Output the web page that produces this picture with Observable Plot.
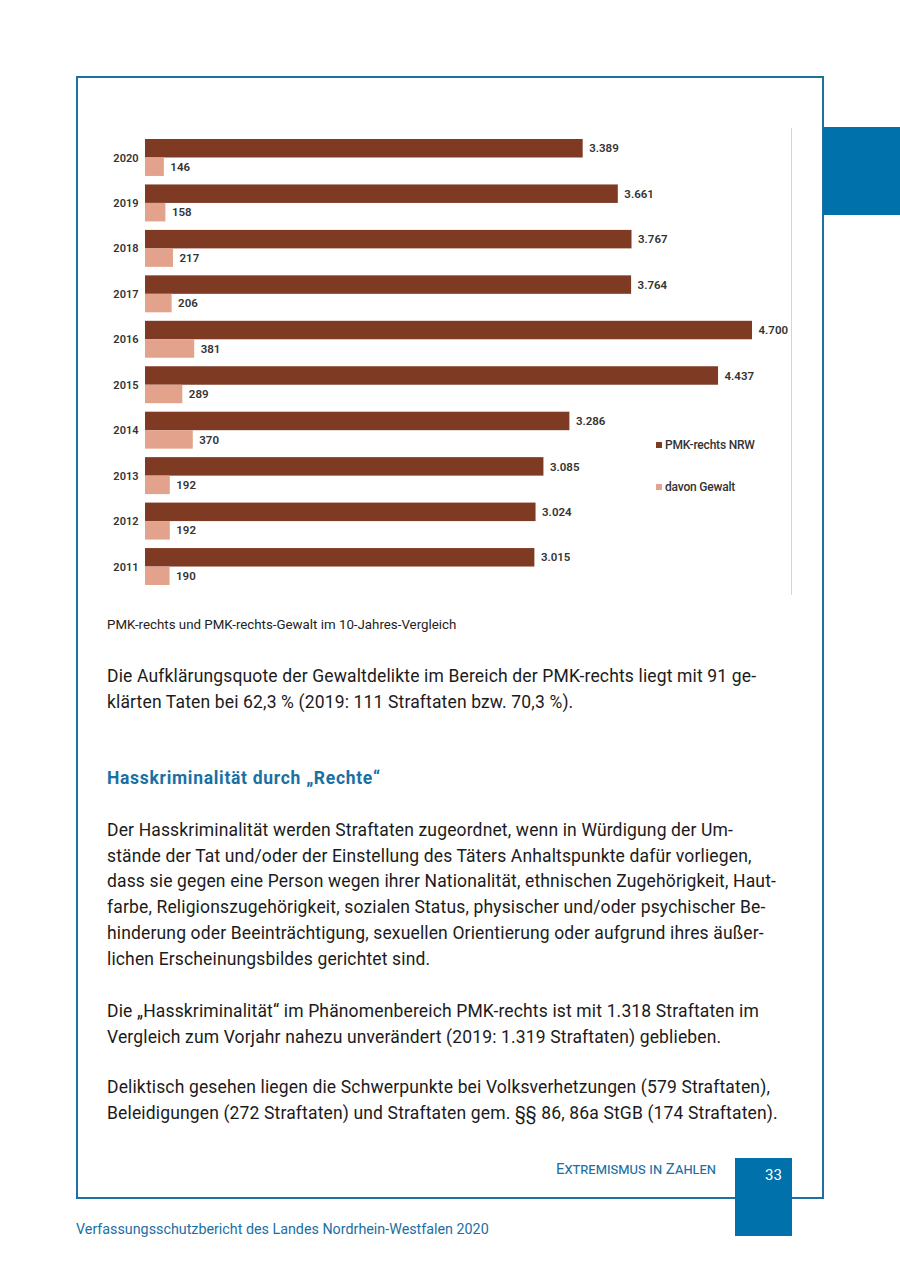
<!DOCTYPE html>
<html lang="de">
<head>
<meta charset="utf-8">
<script src="https://cdn.jsdelivr.net/npm/d3@7"></script>
<script src="https://cdn.jsdelivr.net/npm/@observablehq/plot@0.6"></script>
<style>
  html, body { margin: 0; padding: 0; background: #fff; }
  body { width: 900px; height: 1276px; position: relative; overflow: hidden; font-family: Roboto, "Open Sans", sans-serif; color: #1b1b1b; }
  .abs { position: absolute; }
  #frame { left: 76px; top: 76px; width: 744px; height: 1119px; border: 2px solid #1e6fa3; }
  #tab { left: 823px; top: 127px; width: 77px; height: 88px; background: #0071ab; }
  #pagebox { left: 735px; top: 1158px; width: 57px; height: 78px; background: #0071ab; color: #fff; font-size: 15px; box-sizing: border-box; padding-left: 30px; padding-top: 4px; line-height: 26px; }
  #chart { left: 100px; top: 117px; }
  #vline { left: 791px; top: 128px; width: 1px; height: 467px; background: #d4d4d4; }
  .leg { font-size: 12px; font-weight: 500; color: #333; letter-spacing: -0.2px; }
  .leg span { display: inline-block; width: 6px; height: 6px; margin-right: 3px; vertical-align: 1px; }
  #caption { left: 107px; top: 617px; font-size: 13.3px; color: #222; }
  .p { left: 107px; font-size: 17.5px; letter-spacing: 0.15px; line-height: 25.7px; color: #1b1b1b; white-space: nowrap; }
  #head { left: 107px; top: 768px; font-size: 17.5px; letter-spacing: 0.7px; font-weight: 700; color: #1a6fa3; }
  #section { left: 520px; width: 196px; text-align: right; top: 1160px; font-size: 15px; font-variant: small-caps; color: #1a6fa3; }
  #footer { left: 76px; top: 1221px; font-size: 14.3px; color: #1a6fa3; }
</style>
</head>
<body>
<div id="frame" class="abs"></div>
<div id="tab" class="abs"></div>
<div id="pagebox" class="abs">33</div>
<div id="vline" class="abs"></div>
<div id="chart" class="abs"></div>
<div class="abs leg" style="left:656px; top:438px;"><span style="background:#7f3a24"></span>PMK-rechts NRW</div>
<div class="abs leg" style="left:656px; top:480px;"><span style="background:#e3a28b"></span>davon Gewalt</div>
<div id="caption" class="abs">PMK-rechts und PMK-rechts-Gewalt im 10-Jahres-Vergleich</div>
<div class="abs p" style="top:664px;">Die Aufklärungsquote der Gewaltdelikte im Bereich der PMK-rechts liegt mit 91 ge-<br>klärten Taten bei 62,3 % (2019: 111 Straftaten bzw. 70,3 %).</div>
<div id="head" class="abs">Hasskriminalität durch „Rechte“</div>
<div class="abs p" style="top:818px;">Der Hasskriminalität werden Straftaten zugeordnet, wenn in Würdigung der Um-<br>stände der Tat und/oder der Einstellung des Täters Anhaltspunkte dafür vorliegen,<br>dass sie gegen eine Person wegen ihrer Nationalität, ethnischen Zugehörigkeit, Haut-<br>farbe, Religionszugehörigkeit, sozialen Status, physischer und/oder psychischer Be-<br>hinderung oder Beeinträchtigung, sexuellen Orientierung oder aufgrund ihres äußer-<br>lichen Erscheinungsbildes gerichtet sind.</div>
<div class="abs p" style="top:999px;">Die „Hasskriminalität“ im Phänomenbereich PMK-rechts ist mit 1.318 Straftaten im<br>Vergleich zum Vorjahr nahezu unverändert (2019: 1.319 Straftaten) geblieben.</div>
<div class="abs p" style="top:1075px;">Deliktisch gesehen liegen die Schwerpunkte bei Volksverhetzungen (579 Straftaten),<br>Beleidigungen (272 Straftaten) und Straftaten gem. §§ 86, 86a StGB (174 Straftaten).</div>
<div id="section" class="abs">Extremismus in Zahlen</div>
<div id="footer" class="abs">Verfassungsschutzbericht des Landes Nordrhein-Westfalen 2020</div>
<script>
const years = ["2020","2019","2018","2017","2016","2015","2014","2013","2012","2011"];
const pmkRechts = [3389, 3661, 3767, 3764, 4700, 4437, 3286, 3085, 3024, 3015];
const gewalt = [146, 158, 217, 206, 381, 289, 370, 192, 192, 190];
const series = ["PMK-rechts NRW", "davon Gewalt"];
const colors = ["#7f3a24", "#e3a28b"];

const data = [];
years.forEach((y, i) => {
  data.push({year: y, series: series[0], value: pmkRechts[i]});
  data.push({year: y, series: series[1], value: gewalt[i]});
});
const fmt = d3.formatLocale({decimal: ",", thousands: ".", grouping: [3], currency: ["", "€"]}).format(",d");

const chart = Plot.plot({
  width: 700,
  height: 480,
  marginLeft: 45,
  marginRight: 48,
  marginTop: 22,
  marginBottom: 12,
  style: {fontFamily: "Roboto, sans-serif", background: "transparent"},
  x: {domain: [0, 4700], axis: null},
  y: {domain: series, paddingInner: 0, paddingOuter: 0, axis: null, round: false},
  fy: {domain: years, paddingInner: 0.187, paddingOuter: 0, label: null, round: false},
  color: {domain: series, range: colors},
  marks: [
    Plot.axisFy({anchor: "left", tickSize: 0, tickPadding: 7, fontSize: 11, fontWeight: 600, fill: "#333", label: null}),
    Plot.barX(data, {fy: "year", y: "series", x: "value", fill: "series"}),
    Plot.text(data, {fy: "year", y: "series", x: "value", text: d => fmt(d.value), textAnchor: "start", dx: 6, fontSize: 11.5, fontWeight: 600, fill: "#333"})
  ]
});
document.getElementById("chart").appendChild(chart);
</script>
</body>
</html>
